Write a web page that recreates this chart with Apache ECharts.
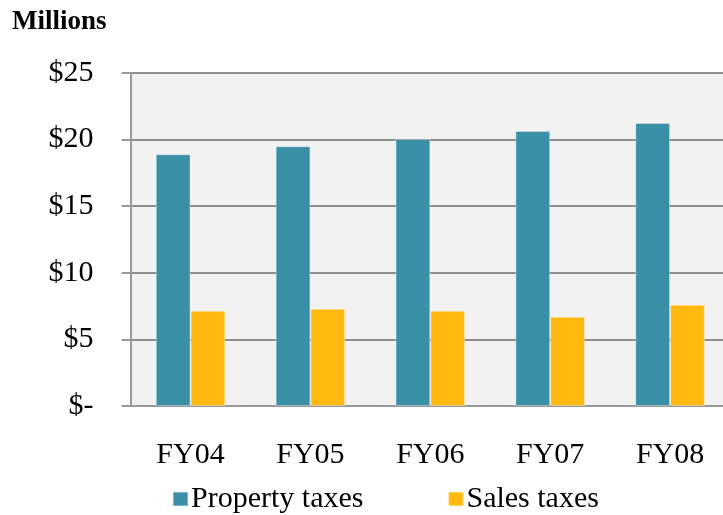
<!DOCTYPE html>
<html>
<head>
<meta charset="utf-8">
<script src="https://cdn.jsdelivr.net/npm/echarts@6/dist/echarts.min.js"></script>
<style>
html,body{margin:0;padding:0;background:#fff;overflow:hidden;}
/* plot runs past the right edge of the window, as in the reference */
#chart{width:730px;height:515px;}
</style>
</head>
<body>
<div id="chart"></div>
<script>
// fiscal years and tax revenue in millions
var years = ['FY04', 'FY05', 'FY06', 'FY07', 'FY08'];
var propertyTaxes = [18.9, 19.5, 20.05, 20.65, 21.25];
var salesTaxes = [7.15, 7.3, 7.15, 6.7, 7.6];
var yTicks = [0, 5, 10, 15, 20, 25];

var font = 'Liberation Serif';
var myChart = echarts.init(document.getElementById('chart'));

myChart.setOption({
  animation: false,
  title: {
    text: 'Millions',
    left: 12,
    top: 9,
    padding: 0,
    textStyle: {fontFamily: font, fontSize: 27, fontWeight: 'bold', color: '#000'}
  },
  legend: {
    data: ['Property taxes', 'Sales taxes'],
    left: 172,
    top: 484,
    padding: 0,
    itemWidth: 15,
    itemHeight: 14,
    itemGap: 84,
    icon: 'rect',
    textStyle: {fontFamily: font, fontSize: 30, color: '#000', padding: [0, 0, 0, -2]}
  },
  grid: {
    left: 130.6,
    right: 0,
    top: 73,
    bottom: 109,
    show: true,
    backgroundColor: '#f2f2f2',
    borderWidth: 0
  },
  xAxis: {
    type: 'category',
    data: years,
    axisLine: {lineStyle: {color: '#999', width: 2}},
    axisTick: {length: 9, lineStyle: {color: '#999', width: 2}},
    axisLabel: {fontFamily: font, fontSize: 30, color: '#000', margin: 34}
  },
  yAxis: {
    type: 'value',
    min: yTicks[0],
    max: yTicks[yTicks.length - 1],
    interval: 5,
    axisLine: {show: true, lineStyle: {color: '#999', width: 2}},
    axisTick: {show: true, length: 9, lineStyle: {color: '#999', width: 2}},
    splitLine: {lineStyle: {color: '#8e8e8e', width: 2}},
    axisLabel: {
      fontFamily: font, fontSize: 30, color: '#000', margin: 37,
      formatter: function (v) { return v === 0 ? '$-' : '$' + v; }
    }
  },
  series: [
    {
      name: 'Property taxes',
      type: 'bar',
      data: propertyTaxes,
      barGap: '0%',
      barCategoryGap: '42%',
      itemStyle: {color: '#3a90a7', borderColor: 'rgba(255,255,255,0.35)', borderWidth: 1}
    },
    {
      name: 'Sales taxes',
      type: 'bar',
      data: salesTaxes,
      barGap: '0%',
      barCategoryGap: '42%',
      itemStyle: {color: '#ffb90f', borderColor: 'rgba(255,255,255,0.35)', borderWidth: 1}
    }
  ]
});
</script>
</body>
</html>
